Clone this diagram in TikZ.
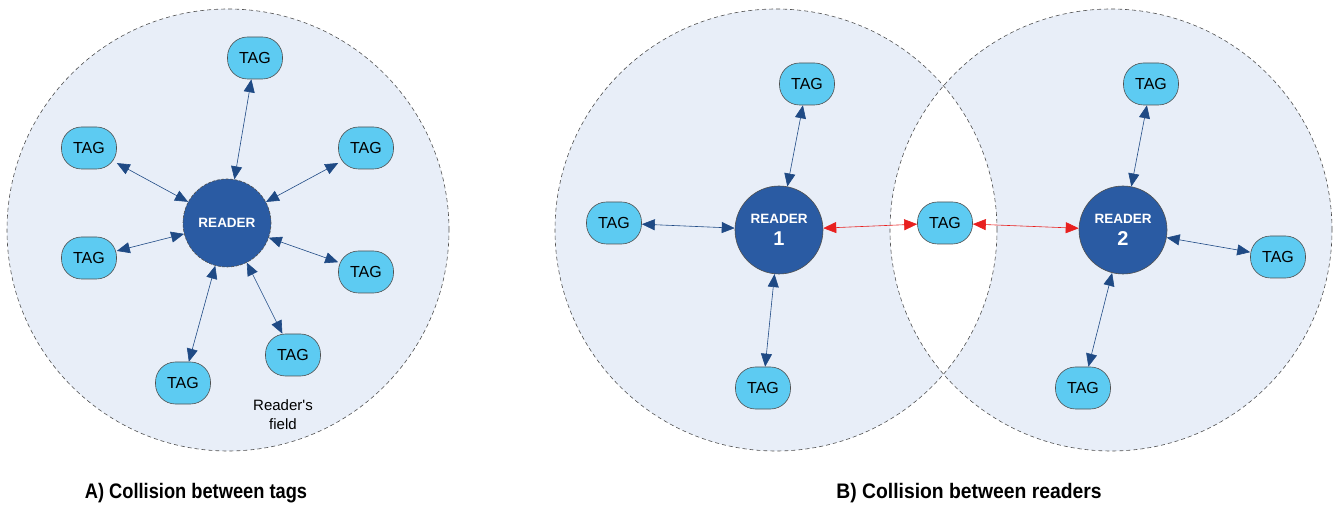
\documentclass[tikz,border=0pt]{standalone}
\usepackage{fontspec}
\setmainfont{Liberation Sans}
\usetikzlibrary{arrows.meta}
\definecolor{fieldbg}{HTML}{E8EEF8}
\definecolor{readerblue}{HTML}{2A5BA3}
\definecolor{tagblue}{HTML}{5DCBF2}
\definecolor{arrowblue}{HTML}{1F4A85}
\definecolor{redarrow}{HTML}{E8201F}
\definecolor{edgegray}{HTML}{505050}
\begin{document}
\begin{tikzpicture}[x=1pt,y=-1pt,
  field/.style={draw=edgegray, dash pattern=on 4pt off 3pt, line width=0.6pt},
  reader/.style={circle, fill=readerblue, draw=edgegray, line width=0.6pt, minimum size=88pt, inner sep=0pt, text=white, font=\bfseries\fontsize{13.5}{15}\selectfont, align=center},
  readerB/.style={reader, font=\bfseries\fontsize{13.5}{22}\selectfont},
  tagnode/.style={rectangle, rounded corners=20pt, fill=tagblue, draw=edgegray, line width=0.6pt, minimum width=55pt, minimum height=42pt, inner sep=0pt, font=\fontsize{16}{17}\selectfont},
  link/.style={draw=arrowblue, line width=0.6pt, {Triangle[length=13pt,width=11pt]}-{Triangle[length=13pt,width=11pt]}},
  collide/.style={draw=redarrow, line width=0.6pt, {Triangle[length=13pt,width=11pt]}-{Triangle[length=13pt,width=11pt]}},
  caption/.style={font=\bfseries\fontsize{21}{24}\selectfont}
]
\useasboundingbox (0,0) rectangle (1333,510);
% fields
\fill[fieldbg] (228,230) circle[radius=221pt];
\draw[field] (228,230) circle[radius=221pt];
\fill[fieldbg, even odd rule] (776,230) circle[radius=221pt] (1111,230) circle[radius=221pt];
\draw[field] (776,230) circle[radius=221pt];
\draw[field] (1111,230) circle[radius=221pt];

% panel A
\node[reader, dash pattern=on 3pt off 1.5pt] (rA) at (227,223) {READER};
\node[tagnode] (a1) at (255,58) {TAG};
\node[tagnode] (a2) at (89,148) {TAG};
\node[tagnode] (a3) at (366,148) {TAG};
\node[tagnode] (a4) at (89,258) {TAG};
\node[tagnode] (a5) at (366,272) {TAG};
\node[tagnode] (a6) at (293,355) {TAG};
\node[tagnode] (a7) at (183,383) {TAG};
\foreach \t in {a1,a2,a3,a4,a5,a6,a7} \draw[link] (\t) -- (rA);
\node[align=center, font=\fontsize{15}{19}\selectfont] (lbl) at (283,415) {Reader\textquotesingle s\\field};

% panel B
\node[readerB] (r1) at (779,230) {READER\\{\fontsize{20}{22}\selectfont 1}};
\node[readerB] (r2) at (1123,230) {READER\\{\fontsize{20}{22}\selectfont 2}};
\node[tagnode] (b1) at (807,84) {TAG};
\node[tagnode] (b2) at (614,223) {TAG};
\node[tagnode] (b3) at (763,388) {TAG};
\node[tagnode] (bm) at (945,223) {TAG};
\node[tagnode] (c1) at (1151,84) {TAG};
\node[tagnode] (c2) at (1278,257) {TAG};
\node[tagnode] (c3) at (1083,388) {TAG};
\foreach \t in {b1,b2,b3} \draw[link] (\t) -- (r1);
\foreach \t in {c1,c2,c3} \draw[link] (\t) -- (r2);
\draw[collide] (r1) -- (bm);
\draw[collide] (bm) -- (r2);

% captions
\node[caption] (capA) at (196,493) {\scalebox{0.87}[1]{A) Collision between tags}};
\node[caption] (capB) at (969,493) {\scalebox{0.92}[1]{B) Collision between readers}};
\end{tikzpicture}
\end{document}
